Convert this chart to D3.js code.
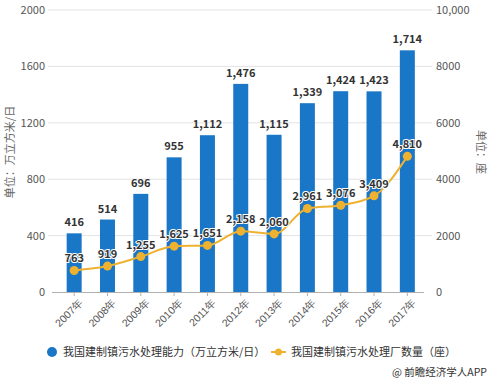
<!DOCTYPE html>
<html><head><meta charset="utf-8">
<script src="https://cdn.jsdelivr.net/npm/d3@7"></script>
<style>body{margin:0;background:#fff;}svg{display:block;font-family:"Microsoft YaHei","Noto Sans CJK SC",sans-serif;}</style>
</head><body><svg id="c" width="491" height="382"></svg>
<script>
const years = ["2007年","2008年","2009年","2010年","2011年","2012年","2013年","2014年","2015年","2016年","2017年"];
const capacity = [416,514,696,955,1112,1476,1115,1339,1424,1423,1714];
const plants = [763,919,1255,1625,1651,2158,2060,2961,3076,3409,4810];
const leftTicks = [0,400,800,1200,1600,2000];
const rightTicks = [0,2000,4000,6000,8000,10000];
const seriesNames = ["我国建制镇污水处理能力（万立方米/日）","我国建制镇污水处理厂数量（座）"];

const svg = d3.select("#c");
const blue = "#1a76c6", gold = "#eeb230";
const x = d3.scaleBand().domain(years).range([57.5,424]).paddingInner(0.55).paddingOuter(0.275);
const yL = d3.scaleLinear().domain([0,2000]).range([292,10]);
const yR = d3.scaleLinear().domain([0,10000]).range([292,10]);
const fmt = d3.format(",");

// grid
svg.append("g").selectAll("line").data(leftTicks.slice(1)).join("line")
  .attr("x1",48).attr("x2",432).attr("y1",d=>yL(d)).attr("y2",d=>yL(d))
  .attr("stroke","#e3e3e3").attr("stroke-width",1);
// tick labels
svg.append("g").selectAll("text").data(leftTicks).join("text")
  .attr("x",45).attr("y",d=>yL(d)+4).attr("text-anchor","end")
  .attr("font-size",11).attr("fill","#555").text(d=>d);
svg.append("g").selectAll("text").data(rightTicks).join("text")
  .attr("x",436).attr("y",d=>yR(d)+4).attr("text-anchor","start")
  .attr("font-size",11).attr("fill","#555").text(d=>d>=10000?fmt(d):d);

// bars
svg.append("g").selectAll("rect").data(capacity).join("rect")
  .attr("x",(d,i)=>x(years[i])).attr("width",x.bandwidth())
  .attr("y",d=>yL(d)).attr("height",d=>yL(0)-yL(d)).attr("fill",blue);

// x axis
const xa = svg.append("g").attr("transform","translate(0,292)")
  .call(d3.axisBottom(x).tickSize(4).tickSizeOuter(0));
xa.select(".domain").attr("stroke","#b0b0b0").attr("d","M52,0.5H424");
xa.selectAll(".tick line").attr("stroke","#b0b0b0");
xa.selectAll(".tick text").attr("font-size",10.5).attr("fill","#555").attr("font-family",null)
  .attr("text-anchor","end").attr("transform","translate(4,4) rotate(-45)").attr("dy","0.3em").attr("dx","-0.1em").attr("y",6);

// bar labels
svg.append("g").selectAll("text").data(capacity).join("text")
  .attr("x",(d,i)=>x(years[i])+x.bandwidth()/2).attr("y",d=>yL(d)-7)
  .attr("text-anchor","middle").attr("font-size",11).attr("font-weight","bold").attr("fill","#333")
  .text(d=>fmt(d));

// line
const cx = (i)=>x(years[i])+x.bandwidth()/2;
const line = d3.line().x((d,i)=>cx(i)).y(d=>yR(d)).curve(d3.curveMonotoneX);
svg.append("path").datum(plants).attr("d",line).attr("fill","none").attr("stroke",gold).attr("stroke-width",2);
svg.append("g").selectAll("circle").data(plants).join("circle")
  .attr("cx",(d,i)=>cx(i)).attr("cy",d=>yR(d)).attr("r",4.5).attr("fill",gold);
svg.append("g").selectAll("text").data(plants).join("text")
  .attr("x",(d,i)=>cx(i)).attr("y",d=>yR(d)-8)
  .attr("text-anchor","middle").attr("font-size",11).attr("font-weight","bold").attr("fill","#333")
  .attr("stroke","#fff").attr("stroke-width",2).attr("paint-order","stroke")
  .text(d=>fmt(d));

// axis titles
svg.append("text").attr("transform","translate(14,152) rotate(-90)").attr("text-anchor","middle")
  .attr("font-size",11).attr("fill","#666").text("单位：万立方米/日");
svg.append("text").attr("transform","translate(477,152) rotate(90)").attr("text-anchor","middle")
  .attr("font-size",11).attr("fill","#666").text("单位：座");

// legend
const lg = svg.append("g").attr("transform","translate(0,352)");
lg.append("circle").attr("cx",52).attr("cy",0).attr("r",5).attr("fill",blue);
lg.append("text").attr("x",63).attr("y",4).attr("font-size",11).attr("fill","#333").text(seriesNames[0]);
lg.append("line").attr("x1",271).attr("x2",286).attr("y1",0).attr("y2",0).attr("stroke",gold).attr("stroke-width",2);
lg.append("circle").attr("cx",278.5).attr("cy",0).attr("r",3.5).attr("fill",gold);
lg.append("text").attr("x",291).attr("y",4).attr("font-size",11).attr("fill","#333").text(seriesNames[1]);

svg.append("text").attr("x",487).attr("y",376).attr("text-anchor","end").attr("font-size",10.5).attr("fill","#333").text("@ 前瞻经济学人APP");
</script></body></html>
